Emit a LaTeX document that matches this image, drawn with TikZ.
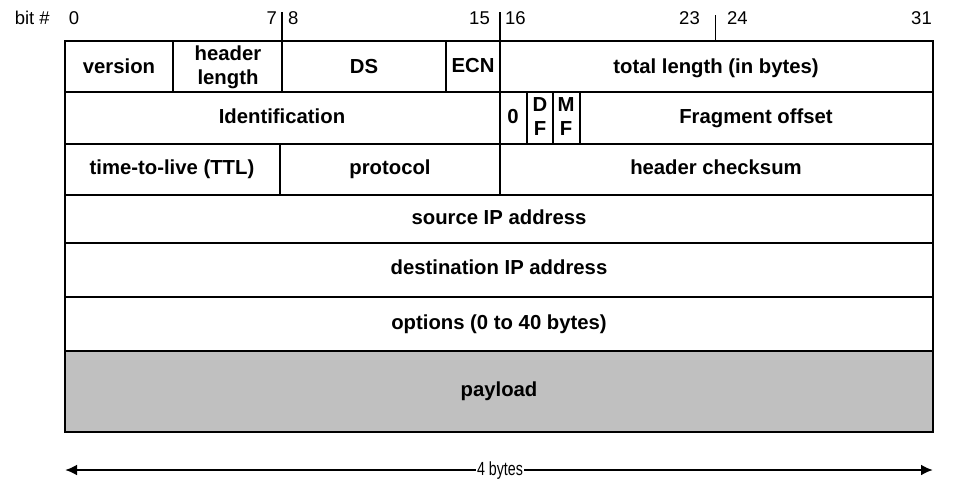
\documentclass[tikz,border=0pt]{standalone}
\usepackage{fontspec}
\setmainfont{Liberation Sans}
\usetikzlibrary{arrows.meta}
\definecolor{payloadgray}{RGB}{192,192,192}

\begin{document}
\begin{tikzpicture}[x=1pt,y=-1pt,>={Latex[length=12pt,width=11pt]},
    field/.style={font=\fontsize{20.3}{24}\selectfont\bfseries,align=center,inner sep=0pt,
                  text height=14.6pt,text depth=1pt},
    field2/.style={font=\fontsize{20.3}{24}\selectfont\bfseries,align=center,inner sep=0pt},
    bitno/.style={font=\fontsize{18.5}{20}\selectfont,inner sep=0pt}]
  \useasboundingbox (0,0) rectangle (974,490);
  % The payload
  \fill[payloadgray] (65,351) rectangle (933,432);
  % The rows
  \draw[line width=2.6pt] (65,41) rectangle (933,432);
  \foreach \y in {92,144,195,243,297,351}
    \draw[line width=2pt] (65,\y) -- (933,\y);
  % The separators (with the ticks above the header)
  \foreach \x/\ya/\yb in {173/41/92,282/12/92,446/41/92,500/12/195,
                          527/92/144,553/92/144,580/92/144,280/144/195}
    \draw[line width=2pt] (\x,\ya) -- (\x,\yb);
  \draw[line width=1pt] (715,15) -- (715,41);
  % The bit numbers
  \node[bitno,anchor=east] (bitlbl) at (50,18) {bit \#};
  \foreach \x/\a/\n in {74/center/0,277/east/7,288/west/8,490/east/15,
                        505/west/16,700/east/23,727/west/24,932/east/31}
    \node[bitno,anchor=\a] (bit\n) at (\x,18) {\n};
  % The fields
  \node[field] (version) at (119,67) {version};
  \node[field2] (hlen) at (228,67) {header\\length};
  \node[field] (ds) at (364,67) {DS};
  \node[field] (ecn) at (473,66) {ECN};
  \node[field] (totlen) at (716,67) {total length (in bytes)};
  \node[field] (ident) at (282,117) {Identification};
  \node[field] (zero) at (513,117) {0};
  \node[field2] (df) at (540,117) {D\\F};
  \node[field2] (mf) at (566,117) {M\\F};
  \node[field] (fragoff) at (756,117) {Fragment offset};
  \node[field] (ttl) at (172,168) {time-to-live (TTL)};
  \node[field] (proto) at (390,168) {protocol};
  \node[field] (hcheck) at (716,168) {header checksum};
  \node[field] (srcip) at (499,218) {source IP address};
  \node[field] (dstip) at (499,268) {destination IP address};
  \node[field] (opts) at (499,323) {options (0 to 40 bytes)};
  \node[field] (payload) at (499,390) {payload};
  % The width
  \coordinate (wleft) at (65,470);
  \coordinate (wright) at (933,470);
  \draw[<->,line width=2.6pt] (wleft) -- (wright);
  \node[fill=white,inner sep=1pt,font=\fontsize{19}{21}\selectfont] (width) at (500,471)
    {\scalebox{0.75}[1]{4 bytes}};
\end{tikzpicture}
\end{document}
